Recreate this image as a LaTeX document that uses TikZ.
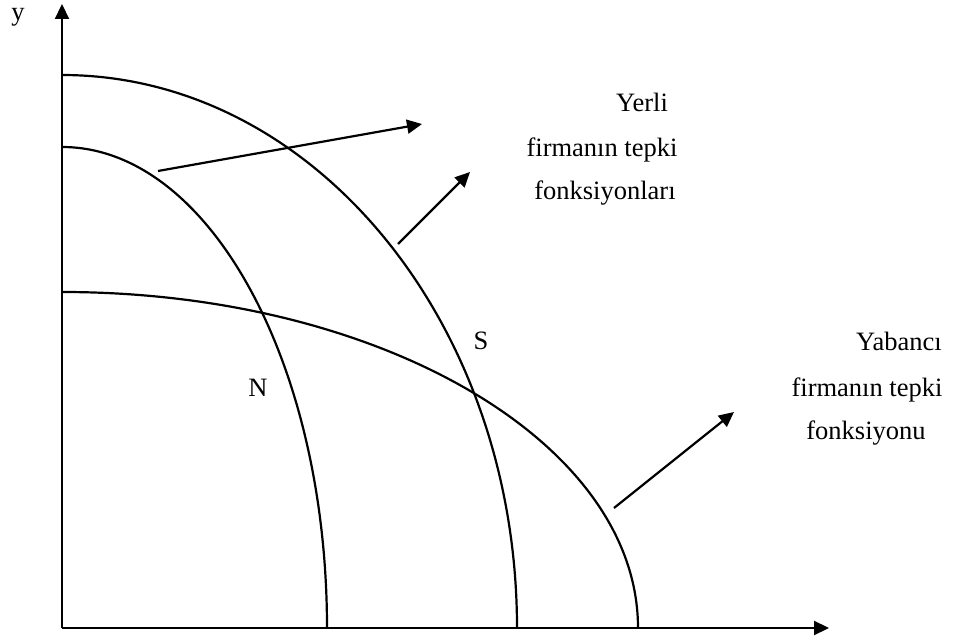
\documentclass[tikz,border=0pt]{standalone}
\usepackage{fontspec}
\setmainfont{Liberation Serif}
\usetikzlibrary{arrows.meta}
\begin{document}
\begin{tikzpicture}[x=1pt,y=1pt,
  line/.style={line width=2.2pt,black},
  arr/.style={line width=2.2pt,-{Triangle[length=15pt,width=14pt]}},
  lbl/.style={font=\fontsize{26.5}{30}\selectfont,anchor=base,inner sep=0pt}]
\useasboundingbox (0,0) rectangle (954,641);
% axes
\coordinate (O) at (62,13);
\coordinate (ytop) at (62,637);
\coordinate (xend) at (829,13);
\draw[arr] (O) -- (ytop);
\draw[arr] (O) -- (xend);
% curves
\draw[line] (62,494) arc[start angle=90,end angle=0,x radius=265,y radius=481];
\draw[line] (62,566) arc[start angle=90,end angle=0,x radius=455,y radius=553];
\draw[line] (62,349) arc[start angle=90,end angle=0,x radius=576,y radius=336];
% arrows
\coordinate (a1s) at (158,470); \coordinate (a1e) at (422,517);
\coordinate (a2s) at (398,397); \coordinate (a2e) at (470,469);
\coordinate (a3s) at (614,133); \coordinate (a3e) at (734,229);
\draw[arr] (a1s) -- (a1e);
\draw[arr] (a2s) -- (a2e);
\draw[arr] (a3s) -- (a3e);
% labels
\node[lbl] (ylab) at (18,620) {y};
\node[lbl] (yerli1) at (642,529) {Yerli};
\node[lbl] (yerli2) at (602,484) {firmanın tepki};
\node[lbl] (yerli3) at (605,441) {fonksiyonları};
\node[lbl] (S) at (481,291) {S};
\node[lbl] (N) at (258,244) {N};
\node[lbl] (yab1) at (899,290) {Yabancı};
\node[lbl] (yab2) at (867,244) {firmanın tepki};
\node[lbl] (yab3) at (866,201) {fonksiyonu};
\end{tikzpicture}
\end{document}
